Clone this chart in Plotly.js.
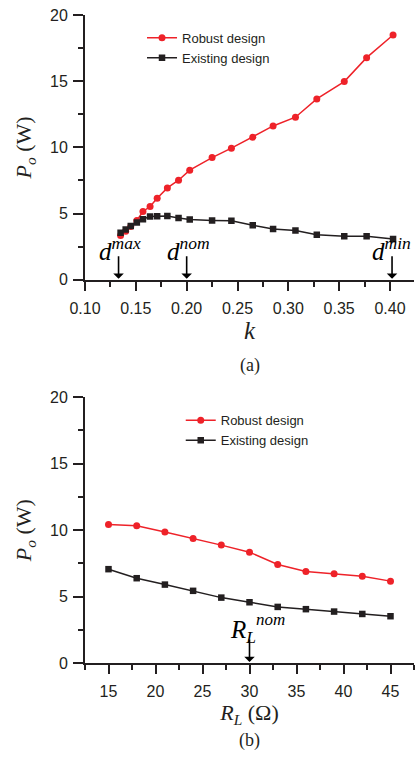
<!DOCTYPE html>
<html>
<head>
<meta charset="utf-8">
<script src="https://cdn.plot.ly/plotly-3.0.1.min.js"></script>
<style>
html,body{margin:0;padding:0;background:#fff;}
#chart{width:415px;height:761px;}
</style>
</head>
<body>
<div id="chart"></div>
<script>
// (a) output power vs coupling coefficient k
const kValues = [0.135, 0.140, 0.145, 0.151, 0.157, 0.164, 0.171, 0.181, 0.192, 0.203, 0.225, 0.244, 0.265, 0.285, 0.307, 0.328, 0.355, 0.377, 0.403];
const robustK = [3.35, 3.67, 4.03, 4.48, 5.16, 5.53, 6.16, 6.94, 7.52, 8.28, 9.23, 9.94, 10.77, 11.62, 12.28, 13.66, 14.97, 16.78, 18.49];
const existingK = [3.55, 3.80, 4.07, 4.33, 4.58, 4.78, 4.80, 4.82, 4.66, 4.55, 4.48, 4.45, 4.12, 3.84, 3.72, 3.40, 3.28, 3.28, 3.08];

// (b) output power vs load resistance R_L
const rlValues = [15, 18, 21, 24, 27, 30, 33, 36, 39, 42, 45];
const robustR = [10.43, 10.33, 9.85, 9.37, 8.87, 8.34, 7.41, 6.88, 6.71, 6.53, 6.16];
const existingR = [7.06, 6.38, 5.90, 5.43, 4.92, 4.57, 4.22, 4.05, 3.87, 3.69, 3.52];

// marked points on the k axis
const kMarks = [0.133, 0.200, 0.402];
const kMarkLabels = ['max', 'nom', 'min'];
const rlMark = 30;

const seriesNames = ['Robust design', 'Existing design'];
const kTicks = [0.10, 0.15, 0.20, 0.25, 0.30, 0.35, 0.40];
const kTickText = ['0.10', '0.15', '0.20', '0.25', '0.30', '0.35', '0.40'];

const RED = '#ee2229';
const BLK = '#231f20';
const SANS = '"Liberation Sans", Arial, sans-serif';
const SERIF = '"Liberation Serif", "Times New Roman", serif';

const traces = [
  {x: kValues, y: robustK, name: seriesNames[0], xaxis: 'x', yaxis: 'y', legend: 'legend',
   mode: 'lines+markers', line: {color: RED, width: 1.5}, marker: {symbol: 'circle', size: 7, color: RED}},
  {x: kValues, y: existingK, name: seriesNames[1], xaxis: 'x', yaxis: 'y', legend: 'legend',
   mode: 'lines+markers', line: {color: BLK, width: 1.5}, marker: {symbol: 'square', size: 6.5, color: BLK}},
  {x: rlValues, y: robustR, name: seriesNames[0], xaxis: 'x2', yaxis: 'y2', legend: 'legend2',
   mode: 'lines+markers', line: {color: RED, width: 1.5}, marker: {symbol: 'circle', size: 7, color: RED}},
  {x: rlValues, y: existingR, name: seriesNames[1], xaxis: 'x2', yaxis: 'y2', legend: 'legend2',
   mode: 'lines+markers', line: {color: BLK, width: 1.5}, marker: {symbol: 'square', size: 6.5, color: BLK}}
];

const axisCommon = {
  showline: true, linecolor: BLK, linewidth: 2, mirror: false,
  showgrid: false, zeroline: false,
  ticks: 'outside', ticklen: 9, tickwidth: 2, tickcolor: BLK,
  tickfont: {family: SANS, size: 16, color: BLK},
  minor: {ticks: 'outside', ticklen: 5, tickwidth: 2, tickcolor: BLK}
};

const yCommon = Object.assign({}, axisCommon, {
  range: [0, 20], dtick: 5, tick0: 0, ticklen: 10, ticklabelstandoff: 2,
  minor: {ticks: 'outside', ticklen: 5, tickwidth: 2, tickcolor: BLK, dtick: 2.5},
  title: {text: '<i>P</i><sub><i>o</i></sub> (W)', font: {family: SERIF, size: 22, color: BLK}, standoff: 12}
});

const annotations = [];
kMarks.forEach((k, i) => {
  annotations.push({x: k, y: 0, xref: 'x', yref: 'y', text: '', showarrow: true,
    ax: 0, ay: -25, arrowhead: 1, arrowsize: 1.1, arrowwidth: 1.6, arrowcolor: '#000', standoff: 1});
  annotations.push({x: k, y: 0, xref: 'x', yref: 'y', showarrow: false,
    text: '<i>d</i><sup><i>' + kMarkLabels[i] + '</i></sup>',
    xanchor: 'left', yanchor: 'bottom', xshift: -22, yshift: 13,
    font: {family: SERIF, size: 25, color: '#000'}});
});
annotations.push({x: rlMark, y: 0, xref: 'x2', yref: 'y2', text: '', showarrow: true,
  ax: 0, ay: -25, arrowhead: 1, arrowsize: 1.1, arrowwidth: 1.6, arrowcolor: '#000', standoff: 1});
annotations.push({x: rlMark, y: 0, xref: 'x2', yref: 'y2', showarrow: false,
  text: '<i>R</i><sub><i>L</i></sub>', xanchor: 'left', yanchor: 'bottom', xshift: -22, yshift: 14,
  font: {family: SERIF, size: 25, color: '#000'}});
annotations.push({x: rlMark, y: 0, xref: 'x2', yref: 'y2', showarrow: false,
  text: '<i>nom</i>', xanchor: 'left', yanchor: 'bottom', xshift: 4, yshift: 32,
  font: {family: SERIF, size: 17, color: '#000'}});
annotations.push({x: 0.5, y: 1, xref: 'paper', yref: 'paper', text: '(a)', showarrow: false,
  xanchor: 'center', yanchor: 'middle', yshift: -350,
  font: {family: SERIF, size: 18, color: BLK}});
annotations.push({x: 0.5, y: 0, xref: 'paper', yref: 'paper', text: '(b)', showarrow: false,
  xanchor: 'center', yanchor: 'middle', yshift: -77,
  font: {family: SERIF, size: 18, color: BLK}});

const layout = {
  width: 415, height: 761,
  margin: {l: 85, r: 1, t: 14.5, b: 98},
  paper_bgcolor: '#fff', plot_bgcolor: '#fff',
  showlegend: true,
  xaxis: Object.assign({}, axisCommon, {
    domain: [0, 1], anchor: 'y', range: [0.10, 0.4236],
    tickvals: kTicks, ticktext: kTickText, ticklabelstandoff: 4,
    minor: {ticks: 'outside', ticklen: 5, tickwidth: 2, tickcolor: BLK, dtick: 0.025, tick0: 0.10},
    title: {text: '<i>k</i>', font: {family: SERIF, size: 25, color: BLK}, standoff: 0}
  }),
  yaxis: Object.assign({}, yCommon, {domain: [0.5914, 1], anchor: 'x'}),
  xaxis2: Object.assign({}, axisCommon, {
    domain: [0, 1], anchor: 'y2', range: [12.5, 47.5], dtick: 5, tick0: 15, ticklabelstandoff: 4,
    minor: {ticks: 'outside', ticklen: 5, tickwidth: 2, tickcolor: BLK, dtick: 2.5, tick0: 12.5},
    title: {text: '<i>R</i><sub><i>L</i></sub> (Ω)', font: {family: SERIF, size: 22, color: BLK}, standoff: 0}
  }),
  yaxis2: Object.assign({}, yCommon, {domain: [0, 0.4102], anchor: 'x2'}),
  legend: {x: 0.1733, y: 0.988, xanchor: 'left', yanchor: 'top', bgcolor: 'rgba(0,0,0,0)',
    font: {family: SANS, size: 13, color: BLK}, tracegroupgap: 0, itemwidth: 30},
  legend2: {x: 0.291, y: 0.3975, xanchor: 'left', yanchor: 'top', bgcolor: 'rgba(0,0,0,0)',
    font: {family: SANS, size: 13, color: BLK}, tracegroupgap: 0, itemwidth: 30},
  annotations: annotations
};

Plotly.newPlot('chart', traces, layout, {displayModeBar: false, staticPlot: true});
</script>
</body>
</html>
